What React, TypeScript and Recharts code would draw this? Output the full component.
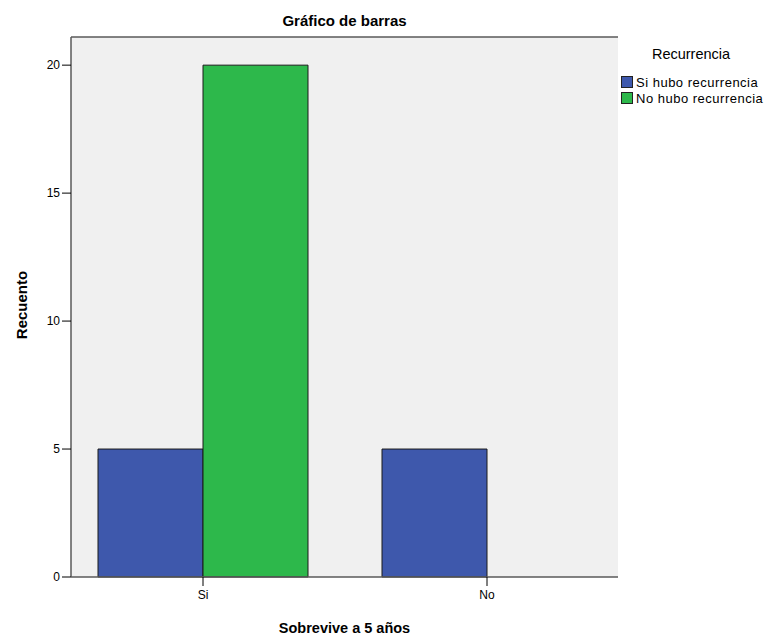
import { BarChart, Bar, XAxis, YAxis, CartesianGrid, Legend } from "recharts";

const categories = ["Si", "No"];
const siHubo = [5, 5];
const noHubo = [20, 0];
const yTicks = [0, 5, 10, 15, 20];
const seriesNames = ["Si hubo recurrencia", "No hubo recurrencia"];

const FONT = '"Liberation Sans", Arial, sans-serif';
const BLUE = "#3E58AC";
const GREEN = "#2DB84B";
const FRAME = "#5a5a5a";

const data = categories.map((name, i) => ({
  name,
  si: siHubo[i],
  no: noHubo[i],
}));

function TitleLabel(props: any) {
  const { viewBox } = props;
  return (
    <text
      x={viewBox.x + viewBox.width / 2}
      y={viewBox.y + 26}
      textAnchor="middle"
      fontFamily={FONT}
      fontWeight="bold"
      fontSize={15}
      fill="#000"
    >
      Gráfico de barras
    </text>
  );
}

function XTitle(props: any) {
  const { viewBox } = props;
  return (
    <text
      x={viewBox.x + viewBox.width / 2}
      y={viewBox.y + 56}
      textAnchor="middle"
      fontFamily={FONT}
      fontWeight="bold"
      fontSize={14.5}
      fill="#000"
    >
      Sobrevive a 5 años
    </text>
  );
}

function YTitle(props: any) {
  const { viewBox } = props;
  const x = viewBox.x + 27;
  const y = viewBox.y + viewBox.height / 2 - 2;
  return (
    <text
      x={x}
      y={y}
      transform={`rotate(-90, ${x}, ${y})`}
      textAnchor="middle"
      fontFamily={FONT}
      fontWeight="bold"
      fontSize={15}
      fill="#000"
    >
      Recuento
    </text>
  );
}

function LegendBox(props: any) {
  const payload = [...(props.payload || [])].sort(
    (a: any, b: any) => seriesNames.indexOf(a.value) - seriesNames.indexOf(b.value)
  );
  return (
    <div style={{ fontFamily: FONT, color: "#000" }}>
      <div style={{ textAlign: "center", fontSize: 14.5, lineHeight: "18px", marginBottom: 11 }}>
        Recurrencia
      </div>
      {payload.map((entry: any) => (
        <div key={entry.value} style={{ display: "flex", alignItems: "center", height: 16 }}>
          <span
            style={{
              width: 10,
              height: 10,
              background: entry.color,
              border: "1px solid #222",
              display: "inline-block",
              flexShrink: 0,
            }}
          />
          <span style={{ fontSize: 13, marginLeft: 3, letterSpacing: 0.5, whiteSpace: "nowrap" }}>
            {entry.value}
          </span>
        </div>
      ))}
    </div>
  );
}

export default function App() {
  return (
    <div style={{ position: "absolute", left: 0, top: 0, background: "#fff" }}>
      <BarChart
        width={773}
        height={640}
        data={data}
        margin={{ top: 0, right: 155, bottom: 0, left: 0 }}
        barGap={0}
      >
        <CartesianGrid fill="#F0F0F0" horizontal={false} vertical={false} />
        <XAxis
          dataKey="name"
          height={63}
          padding={{ left: -10, right: -11 }}
          tickSize={9}
          tickMargin={4}
          tick={{ fill: "#000", fontSize: 12, fontFamily: FONT }}
          axisLine={{ stroke: FRAME, strokeWidth: 1.5 }}
          tickLine={{ stroke: "#000" }}
          label={<XTitle />}
        />
        <XAxis
          xAxisId="top"
          dataKey="name"
          orientation="top"
          height={37}
          tick={false}
          tickLine={false}
          axisLine={{ stroke: FRAME, strokeWidth: 1.5 }}
          label={<TitleLabel />}
        />
        <YAxis
          width={71}
          type="number"
          domain={[0, 21.1]}
          ticks={yTicks}
          tickSize={9}
          tickMargin={2}
          tick={{ fill: "#000", fontSize: 12, fontFamily: FONT }}
          axisLine={{ stroke: FRAME, strokeWidth: 1.5 }}
          tickLine={{ stroke: "#000" }}
          label={<YTitle />}
        />
        <YAxis
          yAxisId="right"
          orientation="right"
          width={0}
          type="number"
          domain={[0, 21.1]}
          tick={false}
          tickLine={false}
          axisLine={{ stroke: FRAME, strokeWidth: 1.5 }}
        />
        <Legend
          layout="horizontal"
          align="center"
          verticalAlign="middle"
          content={<LegendBox />}
          wrapperStyle={{ left: 621, top: 45, width: 140, height: "auto" }}
        />
        <Bar
          dataKey="si"
          name={seriesNames[0]}
          fill={BLUE}
          stroke="#1a1a1a"
          strokeWidth={1}
          barSize={105}
          isAnimationActive={false}
        />
        <Bar
          dataKey="no"
          name={seriesNames[1]}
          fill={GREEN}
          stroke="#1a1a1a"
          strokeWidth={1}
          barSize={105}
          isAnimationActive={false}
        />
      </BarChart>
    </div>
  );
}
